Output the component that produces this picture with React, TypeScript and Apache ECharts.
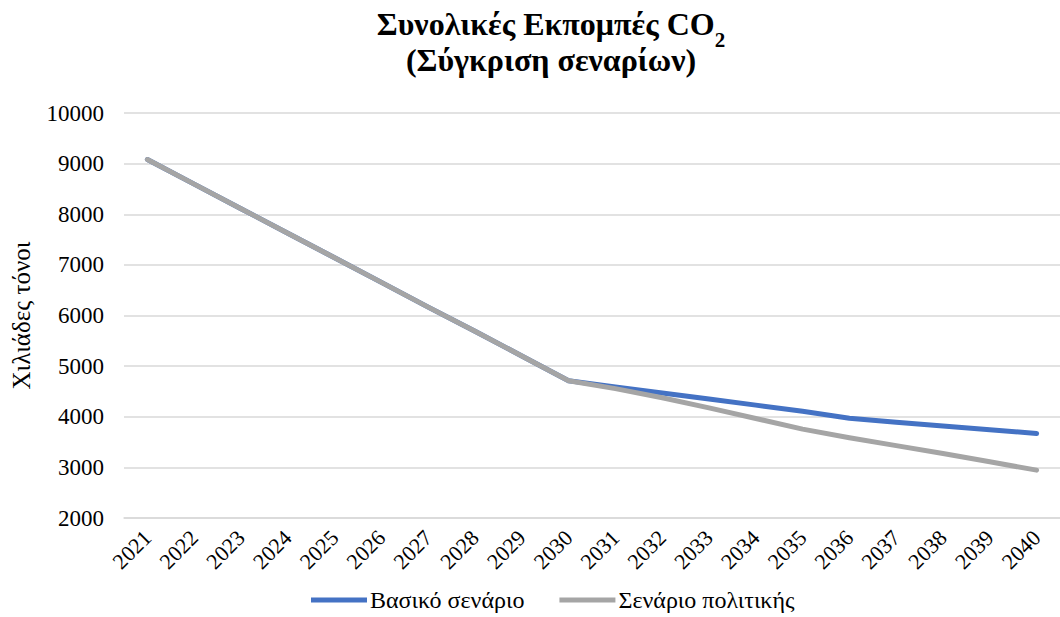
import React, { useEffect, useRef } from "react";
import * as echarts from "echarts";

const years = [
  "2021", "2022", "2023", "2024", "2025", "2026", "2027", "2028", "2029", "2030",
  "2031", "2032", "2033", "2034", "2035", "2036", "2037", "2038", "2039", "2040",
];

// Χιλιάδες τόνοι CO2
const baseScenario = [
  9080, 8595, 8110, 7625, 7140, 6655, 6165, 5690, 5200, 4710,
  4590, 4470, 4350, 4230, 4110, 3970, 3890, 3815, 3745, 3670,
];
const policyScenario = [
  9080, 8595, 8110, 7625, 7140, 6655, 6165, 5690, 5200, 4710,
  4555, 4375, 4175, 3965, 3755, 3585, 3430, 3275, 3110, 2945,
];

const seriesNames = ["Βασικό σενάριο", "Σενάριο πολιτικής"];
const yTicks = { min: 2000, max: 10000, interval: 1000 };

const FONT = "Liberation Serif";

export default function App() {
  const ref = useRef<HTMLDivElement>(null);

  useEffect(() => {
    if (!ref.current) return;
    const chart = echarts.init(ref.current, undefined, { renderer: "svg" });
    chart.setOption({
      animation: false,
      backgroundColor: "#ffffff",
      textStyle: { fontFamily: FONT },
      graphic: [
        {
          type: "text",
          x: 551,
          y: 6,
          style: {
            text: "{t|Συνολικές Εκπομπές CO}{sub|2}\n{t|(Σύγκριση σεναρίων)}",
            align: "center",
            fontFamily: FONT,
            rich: {
              t: {
                fontFamily: FONT,
                fontWeight: "bold",
                fontSize: 32,
                lineHeight: 36,
                fill: "#000",
              },
              sub: {
                fontFamily: FONT,
                fontWeight: "bold",
                fontSize: 21,
                lineHeight: 36,
                verticalAlign: "bottom",
                padding: [0, 0, -8, 0],
                fill: "#000",
              },
            },
          },
        },
      ],
      legend: {
        bottom: 0,
        left: 306,
        data: seriesNames,
        icon: "rect",
        itemWidth: 56,
        itemHeight: 5,
        itemGap: 35,
        textStyle: { fontFamily: FONT, fontSize: 24, color: "#000", padding: [0, 0, 0, -2] },
      },
      grid: { left: 124, right: -14, top: 113, bottom: 99, containLabel: false },
      xAxis: {
        type: "category",
        data: years,
        boundaryGap: true,
        axisLine: { show: true, lineStyle: { color: "#D9D9D9", width: 1.5 } },
        axisTick: { show: false },
        axisLabel: {
          rotate: 45,
          interval: 0,
          fontFamily: FONT,
          fontSize: 22,
          color: "#000",
          margin: 16,
        },
      },
      yAxis: {
        type: "value",
        min: yTicks.min,
        max: yTicks.max,
        interval: yTicks.interval,
        name: "Χιλιάδες τόνοι",
        nameLocation: "middle",
        nameGap: 90,
        nameTextStyle: { fontFamily: FONT, fontSize: 25, color: "#000" },
        axisLine: { show: false },
        axisTick: { show: false },
        axisLabel: {
          fontFamily: FONT,
          fontSize: 23,
          color: "#000",
          margin: 20,
          formatter: (v: number) => String(v),
        },
        splitLine: { lineStyle: { color: "#D9D9D9", width: 1.5 } },
      },
      series: [
        {
          name: seriesNames[0],
          type: "line",
          data: baseScenario,
          showSymbol: false,
          symbol: "none",
          color: "#4472C4",
          lineStyle: { color: "#4472C4", width: 5, cap: "round", join: "round" },
          z: 2,
        },
        {
          name: seriesNames[1],
          type: "line",
          data: policyScenario,
          showSymbol: false,
          symbol: "none",
          color: "#A5A5A5",
          lineStyle: { color: "#A5A5A5", width: 5, cap: "round", join: "round" },
          z: 3,
        },
      ],
    });
    return () => chart.dispose();
  }, []);

  return (
    <div
      ref={ref}
      style={{ position: "fixed", left: 0, top: 0, width: 1060, height: 617 }}
    />
  );
}
